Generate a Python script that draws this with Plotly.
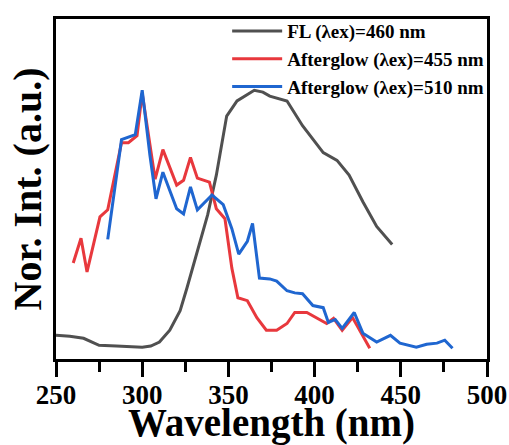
import plotly.graph_objects as go

fl_x = [250, 258, 266, 275, 285, 300, 305, 310, 316, 322, 326, 332, 338, 343, 349, 355, 362, 365, 370, 374, 384, 393, 405, 413, 420, 428, 436, 445]
fl_y = [0.088, 0.085, 0.077, 0.051, 0.048, 0.044, 0.048, 0.063, 0.107, 0.18, 0.265, 0.40, 0.537, 0.684, 0.904, 0.96, 0.989, 1.0, 0.993, 0.978, 0.96, 0.868, 0.768, 0.739, 0.684, 0.585, 0.493, 0.426]

red_x = [260, 264.5, 268, 275.5, 280, 288, 292, 297, 300, 307.5, 312, 320, 324, 328, 332, 339, 343, 348, 352, 355.5, 361, 366.5, 372, 378, 384, 388.5, 395.5, 401, 407, 411, 416, 422, 426, 432]
red_y = [0.357, 0.449, 0.324, 0.529, 0.555, 0.805, 0.805, 0.831, 0.989, 0.669, 0.779, 0.647, 0.665, 0.75, 0.673, 0.658, 0.559, 0.522, 0.338, 0.228, 0.217, 0.154, 0.107, 0.107, 0.132, 0.173, 0.173, 0.154, 0.132, 0.151, 0.107, 0.154, 0.107, 0.040]

blue_x = [280, 288, 296, 300, 304.5, 308, 312, 320, 324, 328, 332, 340.5, 347, 352, 356, 361, 364, 368, 374, 378, 384, 388.5, 393, 399, 405, 408, 412, 416, 423, 428, 436, 444, 449.5, 459, 465, 471, 475.5, 480]
blue_y = [0.445, 0.816, 0.835, 1.0, 0.757, 0.596, 0.695, 0.559, 0.540, 0.640, 0.555, 0.610, 0.574, 0.485, 0.390, 0.438, 0.504, 0.301, 0.298, 0.290, 0.254, 0.246, 0.243, 0.199, 0.191, 0.136, 0.147, 0.114, 0.173, 0.096, 0.063, 0.088, 0.059, 0.044, 0.055, 0.059, 0.070, 0.040]

names = ["FL (λex)=460 nm", "Afterglow (λex)=455 nm", "Afterglow (λex)=510 nm"]
colors = ["#505050", "#e8383d", "#1f66d0"]

serif = "Liberation Serif"
fig = go.Figure()
for xs, ys, nm, c in [(fl_x, fl_y, names[0], colors[0]), (red_x, red_y, names[1], colors[1]), (blue_x, blue_y, names[2], colors[2])]:
    fig.add_trace(go.Scatter(x=xs, y=ys, mode="lines", name=nm, line=dict(color=c, width=3)))

fig.update_layout(
    width=509, height=445,
    margin=dict(l=56, r=22, t=15, b=86),
    paper_bgcolor="white", plot_bgcolor="white",
    font=dict(family=serif, color="black"),
    legend=dict(x=1.005, y=1.02, xanchor="right", yanchor="top",
                bgcolor="rgba(0,0,0,0)", font=dict(family=serif, size=19, color="black", weight="bold"),
                itemwidth=50, tracegroupgap=0),
    showlegend=True,
)
fig.update_xaxes(
    range=[250, 500], tickvals=[250, 300, 350, 400, 450, 500],
    ticks="outside", ticklen=15, tickwidth=3, tickcolor="black",
    minor=dict(tickvals=[275, 325, 375, 425, 475], ticks="outside", ticklen=10, tickwidth=3, tickcolor="black"),
    showline=True, linewidth=3, linecolor="black", mirror=True,
    showgrid=False, zeroline=False, automargin=False,
    tickfont=dict(family=serif, size=27, color="black", weight="bold"),
    ticklabelstandoff=-5,
    title=dict(text="Wavelength (nm)", font=dict(family=serif, size=39, color="black", weight="bold"), standoff=12),
)
fig.update_yaxes(
    range=[0, 1.265], showticklabels=False, ticks="",
    showline=True, linewidth=3, linecolor="black", mirror=True,
    showgrid=False, zeroline=False, automargin=False,
    title=dict(text="Nor. Int. (a.u.)", font=dict(family=serif, size=40, color="black", weight="bold"), standoff=0),
)
fig.write_html("out.html", config={"displayModeBar": False},
               post_script="document.body.style.margin='0';document.documentElement.style.overflow='hidden';")
